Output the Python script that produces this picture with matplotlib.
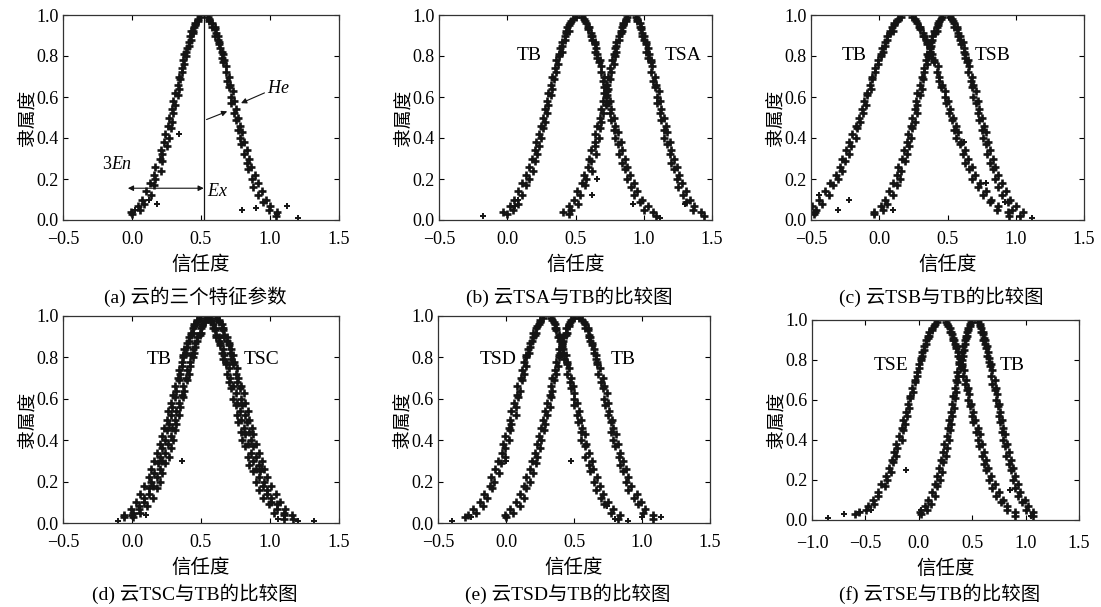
import matplotlib
matplotlib.use('Agg')
import matplotlib.pyplot as plt

plt.rcParams['font.family'] = ['Liberation Serif', 'Noto Sans CJK SC']
plt.rcParams['mathtext.fontset'] = 'custom'
plt.rcParams['mathtext.it'] = 'Liberation Serif:italic'
plt.rcParams['mathtext.rm'] = 'Liberation Serif'

mu_left = [0.99, 0.97, 0.95, 0.92, 0.91, 0.88, 0.85, 0.82, 0.80, 0.76, 0.72, 0.69, 0.64, 0.61, 0.56,
           0.52, 0.48, 0.45, 0.40, 0.36, 0.32, 0.29, 0.24, 0.20, 0.17, 0.12, 0.08, 0.05, 0.03]
mu_right = [0.99, 0.97, 0.94, 0.93, 0.90, 0.88, 0.86, 0.82, 0.79, 0.77, 0.72, 0.68, 0.65, 0.60, 0.57,
            0.52, 0.49, 0.44, 0.40, 0.37, 0.32, 0.28, 0.25, 0.20, 0.16, 0.12, 0.09, 0.05, 0.02]
mu_mid = [0.98, 0.96, 0.94, 0.92, 0.90, 0.87, 0.84, 0.81, 0.78, 0.74, 0.70, 0.66, 0.62, 0.58,
          0.54, 0.50, 0.46, 0.42, 0.38, 0.34, 0.30, 0.26, 0.22, 0.18, 0.14, 0.10, 0.07, 0.04]
mu_mid_r = [0.98, 0.96, 0.94, 0.91, 0.90, 0.87, 0.84, 0.81, 0.78, 0.75, 0.70, 0.66, 0.63, 0.58,
            0.54, 0.50, 0.46, 0.43, 0.38, 0.34, 0.30, 0.26, 0.22, 0.18, 0.14, 0.10, 0.07, 0.04]

# (a) TB
a_tb_left = [0.49, 0.48, 0.46, 0.44, 0.44, 0.43, 0.41, 0.39, 0.39, 0.38, 0.36, 0.35, 0.34, 0.33, 0.31,
             0.30, 0.29, 0.28, 0.27, 0.25, 0.22, 0.22, 0.21, 0.17, 0.16, 0.14, 0.09, 0.06, 0.00]
a_tb_right = [0.55, 0.56, 0.58, 0.60, 0.60, 0.62, 0.63, 0.65, 0.65, 0.66, 0.68, 0.69, 0.70, 0.72, 0.72,
              0.74, 0.75, 0.77, 0.78, 0.79, 0.81, 0.83, 0.84, 0.87, 0.88, 0.91, 0.95, 0.99, 1.04]
a_tb_left2 = [0.48, 0.46, 0.45, 0.43, 0.42, 0.41, 0.40, 0.38, 0.37, 0.36, 0.34, 0.33, 0.31, 0.30,
              0.29, 0.27, 0.26, 0.24, 0.23, 0.21, 0.20, 0.17, 0.16, 0.13, 0.10, 0.07, 0.04, -0.01]
a_tb_right2 = [0.56, 0.58, 0.60, 0.61, 0.62, 0.63, 0.64, 0.66, 0.67, 0.68, 0.70, 0.71, 0.73, 0.74,
               0.75, 0.77, 0.78, 0.80, 0.81, 0.83, 0.85, 0.86, 0.89, 0.91, 0.94, 0.97, 1.00, 1.05]
a_extra_x = [0.34, 0.12, 0.80, 1.05, 1.12, 1.20, 0.02, 0.18, 0.90]
a_extra_y = [0.42, 0.10, 0.05, 0.03, 0.07, 0.01, 0.05, 0.08, 0.06]

# (b) TB and TSA
b_tb_left = [0.50, 0.47, 0.45, 0.45, 0.43, 0.42, 0.40, 0.40, 0.38, 0.37, 0.36, 0.34, 0.33, 0.32, 0.30,
             0.29, 0.28, 0.26, 0.25, 0.23, 0.22, 0.20, 0.19, 0.16, 0.14, 0.11, 0.08, 0.04, 0.00]
b_tb_right = [0.55, 0.57, 0.59, 0.59, 0.61, 0.62, 0.64, 0.64, 0.66, 0.67, 0.69, 0.70, 0.71, 0.72, 0.74,
              0.75, 0.76, 0.78, 0.79, 0.81, 0.82, 0.84, 0.86, 0.88, 0.91, 0.93, 0.97, 1.00, 1.09]
b_tb_left2 = [0.48, 0.46, 0.44, 0.43, 0.42, 0.40, 0.39, 0.38, 0.36, 0.35, 0.33, 0.32, 0.30, 0.29,
              0.28, 0.26, 0.25, 0.23, 0.21, 0.20, 0.18, 0.16, 0.14, 0.11, 0.08, 0.05, 0.02, -0.03]
b_tb_right2 = [0.56, 0.58, 0.60, 0.61, 0.62, 0.64, 0.65, 0.66, 0.68, 0.69, 0.71, 0.72, 0.73, 0.75,
               0.76, 0.78, 0.79, 0.81, 0.83, 0.84, 0.86, 0.88, 0.90, 0.93, 0.95, 0.99, 1.03, 1.07]
b_tsa_left = [0.88, 0.87, 0.85, 0.84, 0.83, 0.82, 0.80, 0.80, 0.79, 0.78, 0.76, 0.75, 0.74, 0.73, 0.72,
              0.70, 0.69, 0.68, 0.67, 0.64, 0.65, 0.61, 0.62, 0.58, 0.57, 0.53, 0.52, 0.47, 0.45]
b_tsa_right = [0.94, 0.95, 0.97, 0.98, 0.99, 1.00, 1.02, 1.02, 1.03, 1.05, 1.05, 1.07, 1.08, 1.10, 1.10,
               1.12, 1.13, 1.15, 1.15, 1.17, 1.19, 1.20, 1.22, 1.24, 1.25, 1.29, 1.31, 1.36, 1.44]
b_tsa_left2 = [0.87, 0.85, 0.84, 0.83, 0.82, 0.80, 0.79, 0.78, 0.77, 0.75, 0.74, 0.73, 0.71, 0.70,
               0.69, 0.68, 0.66, 0.64, 0.64, 0.61, 0.60, 0.59, 0.56, 0.55, 0.51, 0.49, 0.45, 0.41]
b_tsa_right2 = [0.95, 0.97, 0.98, 0.99, 1.00, 1.02, 1.03, 1.04, 1.05, 1.06, 1.08, 1.09, 1.11, 1.12,
                1.13, 1.15, 1.16, 1.17, 1.19, 1.20, 1.22, 1.24, 1.26, 1.28, 1.31, 1.34, 1.37, 1.42]
b_extra_x = [-0.18, 0.06, 0.08, 0.62, 0.66, 0.92, 1.12, 1.30]
b_extra_y = [0.02, 0.07, 0.10, 0.12, 0.20, 0.08, 0.01, 0.08]

# (c) TB and TSB
c_tb_left = [0.16, 0.13, 0.11, 0.10, 0.08, 0.06, 0.04, 0.03, 0.01, -0.01, -0.03, -0.05, -0.06, -0.09, -0.10,
             -0.12, -0.14, -0.16, -0.17, -0.21, -0.22, -0.25, -0.27, -0.30, -0.34, -0.37, -0.42, -0.46, -0.48]
c_tb_right = [0.24, 0.27, 0.29, 0.30, 0.32, 0.34, 0.35, 0.37, 0.39, 0.40, 0.42, 0.44, 0.45, 0.48, 0.49,
              0.51, 0.53, 0.55, 0.56, 0.59, 0.61, 0.63, 0.66, 0.68, 0.72, 0.76, 0.81, 0.86, 0.95]
c_tb_left2 = [0.14, 0.11, 0.09, 0.08, 0.06, 0.04, 0.02, 0.01, -0.01, -0.03, -0.05, -0.07, -0.09, -0.11,
              -0.13, -0.15, -0.17, -0.20, -0.22, -0.24, -0.27, -0.29, -0.32, -0.36, -0.40, -0.44, -0.49, -0.47]
c_tb_right2 = [0.26, 0.28, 0.30, 0.32, 0.33, 0.35, 0.37, 0.39, 0.40, 0.43, 0.44, 0.46, 0.48, 0.50,
               0.52, 0.54, 0.56, 0.58, 0.60, 0.63, 0.65, 0.68, 0.70, 0.74, 0.78, 0.82, 0.87, 0.94]
c_tsb_left = [0.46, 0.44, 0.43, 0.42, 0.41, 0.39, 0.38, 0.37, 0.36, 0.35, 0.33, 0.32, 0.31, 0.30, 0.28,
              0.28, 0.26, 0.24, 0.23, 0.22, 0.20, 0.19, 0.16, 0.15, 0.13, 0.10, 0.06, 0.03, -0.04]
c_tsb_right = [0.52, 0.54, 0.55, 0.57, 0.58, 0.59, 0.60, 0.62, 0.63, 0.64, 0.65, 0.67, 0.68, 0.69, 0.71,
               0.72, 0.73, 0.75, 0.76, 0.78, 0.79, 0.81, 0.83, 0.85, 0.87, 0.90, 0.94, 0.97, 1.03]
c_tsb_left2 = [0.45, 0.43, 0.42, 0.40, 0.39, 0.38, 0.37, 0.35, 0.34, 0.33, 0.31, 0.30, 0.28, 0.27,
               0.26, 0.24, 0.23, 0.21, 0.20, 0.18, 0.17, 0.14, 0.13, 0.10, 0.07, 0.04, 0.01, -0.04]
c_tsb_right2 = [0.53, 0.55, 0.57, 0.58, 0.59, 0.61, 0.62, 0.63, 0.65, 0.66, 0.68, 0.69, 0.71, 0.72,
                0.73, 0.75, 0.77, 0.78, 0.80, 0.81, 0.83, 0.85, 0.87, 0.90, 0.93, 0.96, 1.00, 1.05]
c_extra_x = [-0.22, -0.30, 0.10, 0.62, 0.78, 0.92, 1.12, -0.44]
c_extra_y = [0.10, 0.05, 0.05, 0.38, 0.18, 0.09, 0.01, 0.12]

# (d) TB and TSC
d_tb_left = [0.49, 0.47, 0.45, 0.44, 0.43, 0.41, 0.40, 0.39, 0.37, 0.36, 0.35, 0.34, 0.32, 0.31, 0.29,
             0.28, 0.27, 0.25, 0.24, 0.22, 0.20, 0.19, 0.16, 0.14, 0.12, 0.09, 0.05, 0.01, -0.06]
d_tb_right = [0.55, 0.57, 0.59, 0.60, 0.61, 0.63, 0.64, 0.65, 0.66, 0.68, 0.69, 0.70, 0.72, 0.73, 0.75,
              0.76, 0.77, 0.79, 0.80, 0.82, 0.84, 0.85, 0.88, 0.90, 0.92, 0.95, 0.99, 1.03, 1.10]
d_tb_left2 = [0.47, 0.45, 0.44, 0.43, 0.41, 0.40, 0.38, 0.37, 0.36, 0.34, 0.33, 0.31, 0.30, 0.28,
              0.26, 0.25, 0.23, 0.22, 0.20, 0.18, 0.16, 0.14, 0.12, 0.09, 0.06, 0.03, -0.01, -0.06]
d_tb_right2 = [0.57, 0.59, 0.60, 0.61, 0.63, 0.64, 0.66, 0.67, 0.68, 0.70, 0.71, 0.73, 0.75, 0.76,
               0.78, 0.79, 0.81, 0.82, 0.84, 0.86, 0.88, 0.90, 0.92, 0.95, 0.98, 1.01, 1.05, 1.10]
d_tsc_left = [0.55, 0.53, 0.51, 0.50, 0.49, 0.47, 0.46, 0.45, 0.44, 0.42, 0.41, 0.40, 0.38, 0.37, 0.35,
              0.34, 0.32, 0.31, 0.30, 0.28, 0.27, 0.24, 0.22, 0.20, 0.18, 0.15, 0.11, 0.06, 0.01]
d_tsc_right = [0.61, 0.63, 0.65, 0.66, 0.67, 0.69, 0.70, 0.71, 0.72, 0.73, 0.75, 0.76, 0.78, 0.79, 0.80,
               0.82, 0.83, 0.85, 0.86, 0.88, 0.90, 0.92, 0.93, 0.96, 0.98, 1.01, 1.05, 1.10, 1.17]
d_tsc_left2 = [0.53, 0.51, 0.50, 0.49, 0.47, 0.46, 0.44, 0.43, 0.42, 0.40, 0.39, 0.37, 0.36, 0.34,
               0.32, 0.31, 0.29, 0.28, 0.26, 0.24, 0.22, 0.20, 0.18, 0.15, 0.12, 0.09, 0.05, 0.00]
d_tsc_right2 = [0.63, 0.65, 0.66, 0.67, 0.69, 0.70, 0.72, 0.73, 0.74, 0.76, 0.77, 0.79, 0.81, 0.82,
                0.84, 0.85, 0.87, 0.88, 0.90, 0.92, 0.94, 0.96, 0.98, 1.01, 1.04, 1.07, 1.11, 1.16]
d_extra_x = [0.36, 0.94, 1.20, 1.32, 1.06, 0.10, -0.10]
d_extra_y = [0.30, 0.26, 0.01, 0.01, 0.02, 0.04, 0.01]

# (e) TSD and TB
e_tsd_left = [0.27, 0.25, 0.23, 0.22, 0.21, 0.19, 0.18, 0.17, 0.15, 0.15, 0.13, 0.12, 0.10, 0.09, 0.07,
              0.07, 0.04, 0.03, 0.02, -0.01, -0.01, -0.04, -0.05, -0.09, -0.10, -0.14, -0.17, -0.22, -0.30]
e_tsd_right = [0.33, 0.35, 0.36, 0.37, 0.38, 0.40, 0.41, 0.42, 0.43, 0.45, 0.45, 0.47, 0.48, 0.50, 0.50,
               0.52, 0.53, 0.55, 0.55, 0.58, 0.58, 0.61, 0.62, 0.65, 0.66, 0.70, 0.72, 0.77, 0.82]
e_tsd_left2 = [0.25, 0.24, 0.22, 0.20, 0.20, 0.18, 0.16, 0.15, 0.13, 0.12, 0.11, 0.08, 0.08, 0.06,
               0.04, 0.03, 0.02, -0.01, -0.02, -0.03, -0.06, -0.08, -0.11, -0.12, -0.16, -0.19, -0.24, -0.28]
e_tsd_right2 = [0.34, 0.36, 0.37, 0.39, 0.40, 0.41, 0.42, 0.44, 0.45, 0.46, 0.48, 0.49, 0.50, 0.52,
                0.54, 0.55, 0.56, 0.58, 0.59, 0.61, 0.63, 0.64, 0.67, 0.69, 0.71, 0.75, 0.79, 0.84]
e_tb_left = [0.50, 0.47, 0.46, 0.45, 0.44, 0.42, 0.41, 0.40, 0.39, 0.38, 0.37, 0.35, 0.34, 0.33, 0.32,
             0.30, 0.29, 0.28, 0.26, 0.25, 0.23, 0.22, 0.20, 0.18, 0.15, 0.13, 0.10, 0.05, 0.00]
e_tb_right = [0.54, 0.57, 0.58, 0.60, 0.61, 0.62, 0.63, 0.65, 0.66, 0.67, 0.68, 0.70, 0.71, 0.72, 0.73,
              0.75, 0.77, 0.77, 0.79, 0.80, 0.83, 0.84, 0.86, 0.88, 0.90, 0.94, 0.97, 1.01, 1.08]
e_tb_left2 = [0.48, 0.46, 0.44, 0.44, 0.42, 0.41, 0.39, 0.39, 0.37, 0.36, 0.34, 0.33, 0.32, 0.30,
              0.29, 0.27, 0.26, 0.24, 0.23, 0.21, 0.19, 0.18, 0.15, 0.13, 0.10, 0.07, 0.03, -0.01]
e_tb_right2 = [0.56, 0.58, 0.60, 0.61, 0.62, 0.63, 0.65, 0.66, 0.67, 0.69, 0.71, 0.72, 0.74, 0.75,
               0.76, 0.78, 0.79, 0.81, 0.82, 0.84, 0.86, 0.88, 0.90, 0.92, 0.96, 0.99, 1.02, 1.08]
e_extra_x = [-0.40, -0.26, 0.00, 0.48, 0.74, 0.90, 1.00, 1.14, 0.80]
e_extra_y = [0.01, 0.03, 0.30, 0.30, 0.08, 0.01, 0.03, 0.03, 0.02]

# (f) TSE and TB
f_tse_left = [0.17, 0.14, 0.12, 0.10, 0.09, 0.07, 0.05, 0.03, 0.02, 0.00, -0.02, -0.04, -0.05, -0.08, -0.09,
              -0.11, -0.13, -0.15, -0.16, -0.20, -0.21, -0.24, -0.26, -0.30, -0.32, -0.38, -0.42, -0.49, -0.60]
f_tse_right = [0.25, 0.27, 0.29, 0.31, 0.32, 0.34, 0.35, 0.37, 0.38, 0.40, 0.41, 0.43, 0.45, 0.46, 0.48,
               0.50, 0.51, 0.54, 0.55, 0.56, 0.59, 0.61, 0.63, 0.66, 0.69, 0.72, 0.77, 0.83, 0.90]
f_tse_left2 = [0.15, 0.12, 0.10, 0.09, 0.07, 0.05, 0.03, 0.02, 0.00, -0.02, -0.04, -0.06, -0.08, -0.10,
               -0.12, -0.15, -0.16, -0.19, -0.21, -0.23, -0.25, -0.28, -0.31, -0.35, -0.38, -0.43, -0.48, -0.56]
f_tse_right2 = [0.26, 0.29, 0.30, 0.32, 0.33, 0.35, 0.37, 0.39, 0.40, 0.42, 0.44, 0.46, 0.47, 0.49,
                0.51, 0.53, 0.55, 0.57, 0.59, 0.61, 0.63, 0.65, 0.68, 0.71, 0.75, 0.79, 0.83, 0.90]
f_tb_left = [0.49, 0.48, 0.46, 0.45, 0.44, 0.43, 0.42, 0.41, 0.40, 0.39, 0.37, 0.36, 0.35, 0.34, 0.33,
             0.31, 0.30, 0.29, 0.28, 0.26, 0.25, 0.23, 0.22, 0.20, 0.17, 0.15, 0.11, 0.08, 0.02]
f_tb_right = [0.55, 0.57, 0.58, 0.60, 0.60, 0.62, 0.63, 0.64, 0.66, 0.67, 0.68, 0.69, 0.71, 0.72, 0.74,
              0.75, 0.76, 0.78, 0.79, 0.81, 0.82, 0.84, 0.86, 0.88, 0.90, 0.93, 0.97, 1.00, 1.07]
f_tb_left2 = [0.48, 0.46, 0.45, 0.44, 0.43, 0.41, 0.40, 0.39, 0.38, 0.36, 0.35, 0.34, 0.32, 0.31,
              0.30, 0.28, 0.27, 0.26, 0.24, 0.23, 0.21, 0.19, 0.17, 0.15, 0.12, 0.09, 0.06, 0.01]
f_tb_right2 = [0.57, 0.58, 0.60, 0.61, 0.62, 0.64, 0.65, 0.66, 0.68, 0.69, 0.71, 0.72, 0.73, 0.75,
               0.76, 0.78, 0.79, 0.81, 0.83, 0.84, 0.86, 0.88, 0.90, 0.93, 0.95, 0.99, 1.02, 1.07]
f_extra_x = [-0.70, -0.55, -0.45, -0.85, -0.12, 0.02, 0.85, 1.05]
f_extra_y = [0.03, 0.04, 0.05, 0.01, 0.25, 0.05, 0.15, 0.02]

captions = ['(a) 云的三个特征参数', '(b) 云TSA与TB的比较图', '(c) 云TSB与TB的比较图',
            '(d) 云TSC与TB的比较图', '(e) 云TSD与TB的比较图', '(f) 云TSE与TB的比较图']
xtick_values = [-0.5, 0.0, 0.5, 1.0, 1.5]
xtick_values_f = [-1.0, -0.5, 0.0, 0.5, 1.0, 1.5]
ytick_values = [0.0, 0.2, 0.4, 0.6, 0.8, 1.0]
xticks = [xtick_values] * 5 + [xtick_values_f]

panels = [
    [(a_tb_left, a_tb_right, a_tb_left2, a_tb_right2)],
    [(b_tb_left, b_tb_right, b_tb_left2, b_tb_right2),
     (b_tsa_left, b_tsa_right, b_tsa_left2, b_tsa_right2)],
    [(c_tb_left, c_tb_right, c_tb_left2, c_tb_right2),
     (c_tsb_left, c_tsb_right, c_tsb_left2, c_tsb_right2)],
    [(d_tb_left, d_tb_right, d_tb_left2, d_tb_right2),
     (d_tsc_left, d_tsc_right, d_tsc_left2, d_tsc_right2)],
    [(e_tsd_left, e_tsd_right, e_tsd_left2, e_tsd_right2),
     (e_tb_left, e_tb_right, e_tb_left2, e_tb_right2)],
    [(f_tse_left, f_tse_right, f_tse_left2, f_tse_right2),
     (f_tb_left, f_tb_right, f_tb_left2, f_tb_right2)],
]
extras = [(a_extra_x, a_extra_y), (b_extra_x, b_extra_y), (c_extra_x, c_extra_y),
          (d_extra_x, d_extra_y), (e_extra_x, e_extra_y), (f_extra_x, f_extra_y)]

# cloud names and where they are written (data coords)
names = [
    [],
    [('TB', 0.16, 0.80), ('TSA', 1.29, 0.80)],
    [('TB', -0.18, 0.80), ('TSB', 0.83, 0.80)],
    [('TB', 0.20, 0.79), ('TSC', 0.94, 0.79)],
    [('TSD', -0.06, 0.79), ('TB', 0.86, 0.79)],
    [('TSE', -0.26, 0.77), ('TB', 0.87, 0.77)],
]

W, H = 1101, 607
boxes = [(63, 15, 276, 205), (439, 15, 273, 205), (811, 15, 273, 205),
         (63, 316, 276, 207), (438, 316, 272, 207), (812, 320, 267, 200)]

fig = plt.figure(figsize=(W / 100, H / 100), dpi=100)
ink = '#141414'
drop = dict(linestyle='none', marker='+', color=ink, ms=6, mew=1.9)

for i, (l, t, w, h) in enumerate(boxes):
    ax = fig.add_axes([l / W, (H - t - h) / H, w / W, h / H])
    for left, right, left2, right2 in panels[i]:
        ax.plot(left, mu_left, **drop)
        ax.plot(right, mu_right, **drop)
        ax.plot(left2, mu_mid, **drop)
        ax.plot(right2, mu_mid_r, **drop)
    ex, ey = extras[i]
    ax.plot(ex, ey, linestyle='none', marker='+', color=ink, ms=4.5, mew=1.4)
    for label, lx, ly in names[i]:
        ax.text(lx, ly, label, ha='center', va='center', fontsize=14)

    ax.set_xlim(xticks[i][0], xticks[i][-1])
    ax.set_ylim(0, 1)
    ax.set_xticks(xticks[i])
    ax.set_xticklabels([f'{v:.1f}'.replace('-', '\u2212') for v in xticks[i]])
    ax.set_yticks(ytick_values)
    ax.set_yticklabels([f'{v:.1f}' for v in ytick_values])
    ax.tick_params(direction='in', top=True, right=True, length=3.5, width=0.8,
                   labelsize=13)
    # the last panel's frame ends a little higher, its labels sit level with the row
    bottom_gap = 523 - (t + h) if t > 100 else 0
    ax.tick_params(axis='x', pad=8 + bottom_gap)
    ax.tick_params(axis='y', pad=3)
    for s in ax.spines.values():
        s.set_linewidth(0.9)
        s.set_color('#333333')
    ax.set_ylabel('隶属度', fontsize=13.5, labelpad=0)
    ax.set_xlabel('信任度', fontsize=14, labelpad=5)

    cx = (l + w / 2 - 6) / W
    cy = 1 - (297 if t < 100 else 594) / H
    fig.text(cx, cy, captions[i], ha='center', va='center', fontsize=14)

    if i == 0:
        ax.plot([0.52, 0.52], [0.0, 1.0], color=ink, lw=0.9)
        ax.annotate('', xy=(-0.03, 0.155), xytext=(0.52, 0.155),
                    arrowprops=dict(arrowstyle='<|-|>', color=ink, lw=0.8,
                                    mutation_scale=8, shrinkA=0, shrinkB=0))
        ax.text(-0.11, 0.27, '$3En$', ha='center', va='center', fontsize=13)
        ax.text(0.62, 0.14, '$Ex$', ha='center', va='center', fontsize=13)
        ax.text(1.06, 0.64, '$He$', ha='center', va='center', fontsize=13)
        ax.annotate('', xy=(0.79, 0.57), xytext=(0.96, 0.62),
                    arrowprops=dict(arrowstyle='-|>', color=ink, lw=0.8,
                                    mutation_scale=8, shrinkA=0, shrinkB=0))
        ax.annotate('', xy=(0.69, 0.53), xytext=(0.54, 0.49),
                    arrowprops=dict(arrowstyle='-|>', color=ink, lw=0.8,
                                    mutation_scale=8, shrinkA=0, shrinkB=0))

fig.savefig('out.png', dpi=100)
